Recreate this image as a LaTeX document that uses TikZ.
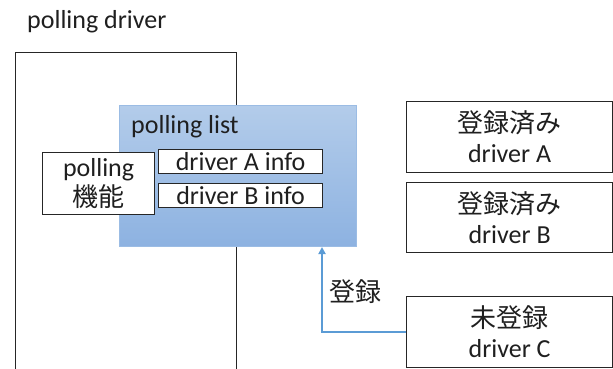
\documentclass[tikz,border=0pt]{standalone}
\usepackage{fontspec}
\setmainfont{Carlito}
\newfontfamily\cjk{Noto Sans CJK JP}
\usetikzlibrary{arrows.meta}
\definecolor{lbtop}{HTML}{B3CCEA}
\definecolor{lbbot}{HTML}{8DB2E1}
\definecolor{lbborder}{HTML}{9BBCE4}
\definecolor{arrowblue}{HTML}{5B9BD5}
\definecolor{txt}{HTML}{1F1F1F}
\begin{document}
\begin{tikzpicture}[x=1pt,y=-1pt,
  every node/.style={font=\fontsize{26}{30}\selectfont, text=txt, inner sep=0pt},
  plainbox/.style={draw=black!85, line width=1.2pt, fill=white, anchor=north west, align=center},
  listbox/.style={draw=lbborder, line width=1pt, top color=lbtop, bottom color=lbbot, anchor=north west},
  conn/.style={draw=arrowblue, line width=1.8pt, -{Triangle[length=7pt,width=7pt]}}]
\clip (0,0) rectangle (613,368);
\node[anchor=west] (title) at (27,22) {polling driver};
\node[plainbox, minimum width=221pt, minimum height=325pt] (drv) at (15,52) {};
\node[listbox, minimum width=237pt, minimum height=141pt] (list) at (119,105) {};
\node[anchor=west] (listlbl) at (131,127) {polling list};
\node[plainbox, minimum width=112pt, minimum height=62pt] (poll) at (42,152) {polling\\{\cjk 機能}};
\node[plainbox, minimum width=164pt, minimum height=24pt] (ainfo) at (158,149) {driver A info};
\node[plainbox, minimum width=164pt, minimum height=24pt] (binfo) at (158,183) {driver B info};
\node[plainbox, minimum width=206pt, minimum height=71pt] (da) at (406,101) {{\cjk 登録済み}\\driver A};
\node[plainbox, minimum width=206pt, minimum height=70pt] (db) at (406,182) {{\cjk 登録済み}\\driver B};
\node[plainbox, minimum width=206pt, minimum height=71pt] (dc) at (406,296) {{\cjk 未登録}\\driver C};
\coordinate (tgt) at (322,0);
\draw[conn] (dc.west) -| (list.south -| tgt);
\node (reg) at (355,292) {\cjk 登録};
\end{tikzpicture}
\end{document}
